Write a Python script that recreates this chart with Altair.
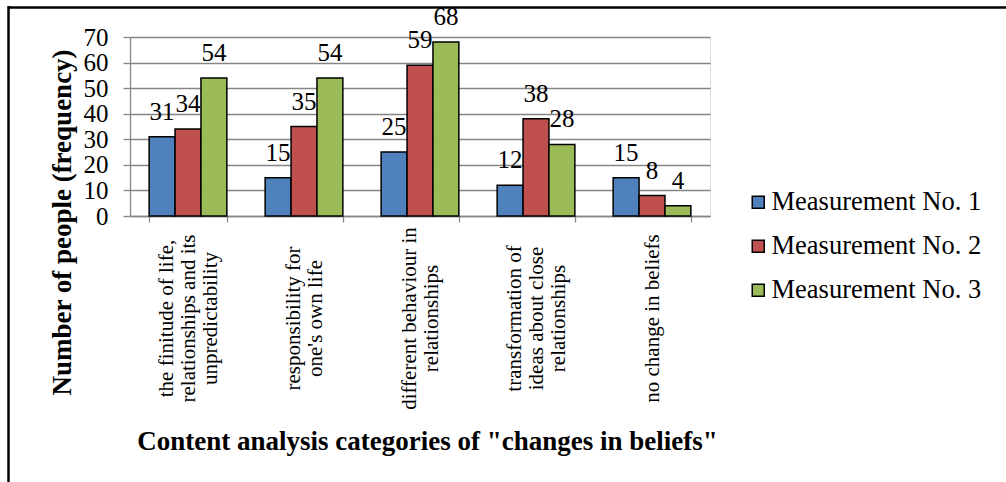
import altair as alt
import pandas as pd

# Category labels ("|" marks a line break in the axis label)
categories = [
    "the finitude of life,|relationships and its|unpredictability",
    "responsibility for|one's own life",
    "different behaviour in|relationships",
    "transformation of|ideas about close|relationships",
    "no change in beliefs",
]
series = ["Measurement No. 1", "Measurement No. 2", "Measurement No. 3"]
measurement_1 = [31, 15, 25, 12, 15]
measurement_2 = [34, 35, 59, 38, 8]
measurement_3 = [54, 54, 68, 28, 4]
colors = ["#4F81BD", "#C0504D", "#9BBB59"]
y_ticks = [0, 10, 20, 30, 40, 50, 60, 70]

rows = []
for name, values in zip(series, [measurement_1, measurement_2, measurement_3]):
    for cat, val in zip(categories, values):
        rows.append({"category": cat, "series": name, "value": val})
df = pd.DataFrame(rows)

FONT = "Liberation Serif"
GRID = "#868686"
LINE_H = 22

# Shift multi-line category labels so each block is centred on its band
n_lines = "length(split(datum.label, '|'))"
label_shift = {
    "condition": [
        {"test": f"{n_lines} == 3", "value": -LINE_H},
        {"test": f"{n_lines} == 2", "value": -LINE_H / 2},
    ],
    "value": 0,
}

x_enc = alt.X(
    "category:N",
    sort=categories,
    scale=alt.Scale(paddingInner=0.33, paddingOuter=0.165),
    axis=alt.Axis(
        title='Content analysis categories of "changes in beliefs"',
        titleFont=FONT,
        titleFontSize=27,
        titleFontWeight="bold",
        titleColor="black",
        titleX=297,
        titleY=225,
        titleAlign="center",
        titleBaseline="middle",
        labelExpr="split(datum.label, '|')",
        labelAngle=-90,
        labelAlign="center",
        labelBaseline="middle",
        labelPadding=96,
        labelOffset=label_shift,
        labelFont=FONT,
        labelFontSize=21,
        labelLineHeight=LINE_H,
        labelColor="black",
        labelLimit=500,
        labelOverlap=False,
        domainColor=GRID,
        domainWidth=1.3,
        tickColor=GRID,
        tickWidth=1.3,
        tickSize=6,
        tickBand="extent",
        grid=False,
    ),
)

y_enc = alt.Y(
    "value:Q",
    scale=alt.Scale(domain=[0, 70], nice=False),
    axis=alt.Axis(
        values=y_ticks,
        title="Number of people (frequency)",
        titleFont=FONT,
        titleFontSize=27,
        titleFontWeight="bold",
        titleColor="black",
        titleX=-68,
        titleY=185,
        titleAlign="center",
        titleBaseline="middle",
        labelFont=FONT,
        labelFontSize=25,
        labelColor="black",
        labelPadding=15,
        labelOverlap=False,
        labelFlush=False,
        domainColor=GRID,
        domainWidth=1.3,
        tickColor=GRID,
        tickWidth=1.3,
        tickSize=7,
        grid=True,
        gridColor=GRID,
        gridWidth=1.3,
    ),
)

x_off = alt.XOffset(
    "series:N", sort=series, scale=alt.Scale(paddingInner=0, paddingOuter=0)
)

base = alt.Chart(df).encode(x=x_enc, xOffset=x_off, y=y_enc)

bars = base.mark_bar(stroke="black", strokeWidth=1.5).encode(
    color=alt.Color(
        "series:N",
        sort=series,
        scale=alt.Scale(domain=series, range=colors),
        legend=alt.Legend(
            title=None,
            orient="none",
            legendX=615,
            legendY=152,
            padding=0,
            symbolType="square",
            symbolSize=144,
            symbolStrokeColor="black",
            symbolStrokeWidth=1.5,
            labelFont=FONT,
            labelFontSize=26.5,
            labelColor="black",
            labelOffset=0,
            labelLimit=400,
            rowPadding=17,
        ),
    ),
)

labels = base.mark_text(
    font=FONT, fontSize=25, baseline="alphabetic", dy=-17, color="black"
).encode(text="value:Q")

# Frame around the chart (top and left edges)
frame_df = pd.DataFrame({"k": [0]})
frame_top = alt.Chart(frame_df).mark_rule(color="black", strokeWidth=2.5).encode(
    x=alt.value(-122), x2=alt.value(900), y=alt.value(-29.5)
)
frame_left = alt.Chart(frame_df).mark_rule(color="black", strokeWidth=2.5).encode(
    x=alt.value(-121.5), y=alt.value(-31), y2=alt.value(460)
)

chart = (
    alt.layer(bars, labels, frame_top, frame_left)
    .properties(
        width=580,
        height=179,
        autosize=alt.AutoSizeParams(type="none"),
        padding={"left": 130, "top": 37, "right": 296, "bottom": 266},
    )
    .configure_view(stroke=None)
    .configure(background="white")
)

chart.save("out.html", embed_options={"renderer": "svg", "actions": False})
